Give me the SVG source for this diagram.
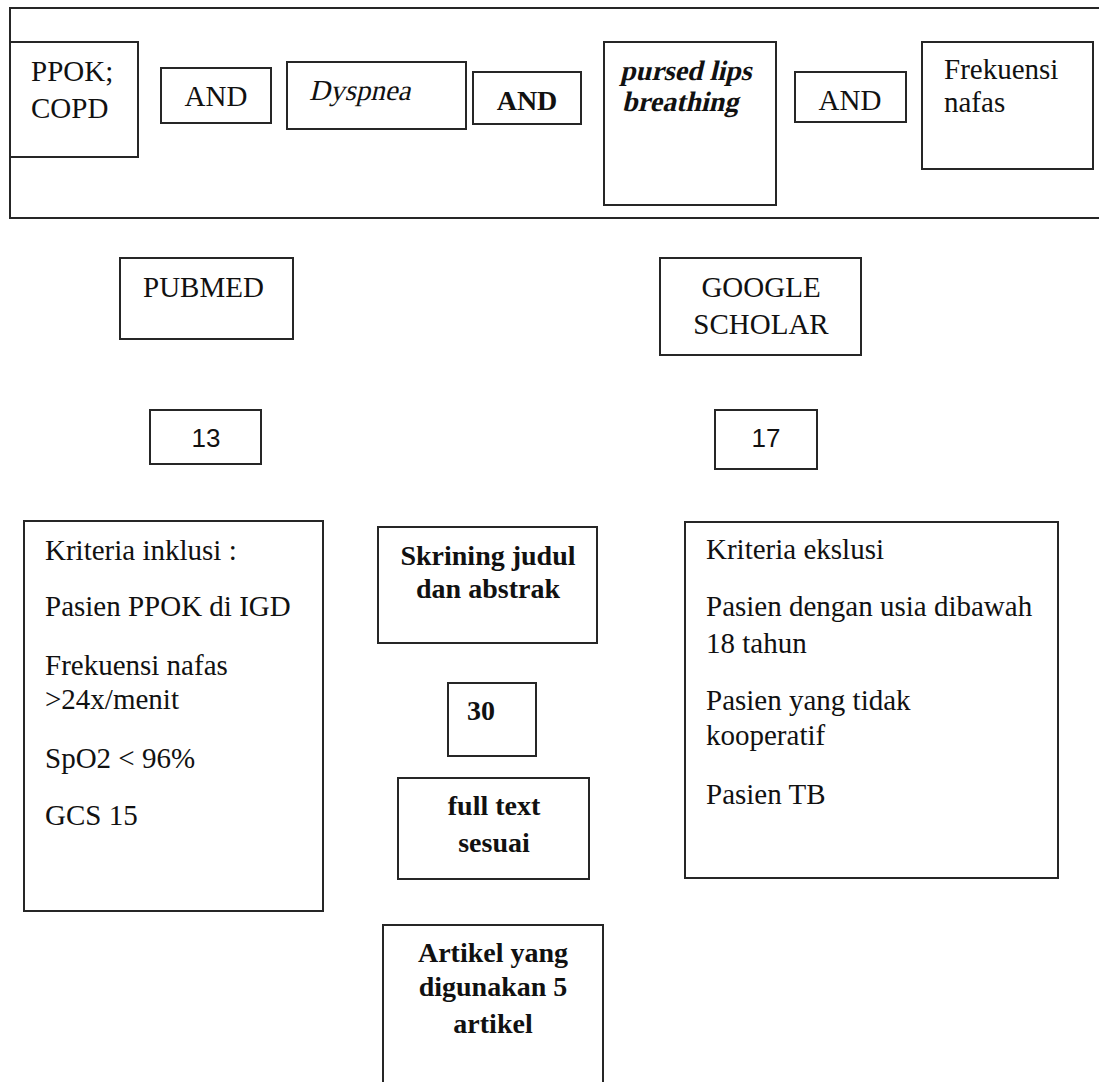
<svg xmlns="http://www.w3.org/2000/svg" width="1099" height="1082" viewBox="0 0 1099 1082">
<style>
.b{fill:#fff;stroke:#262626;stroke-width:2}
.t{font-family:"Liberation Serif","Times New Roman",serif;font-size:29px;fill:#111}
.w{font-weight:bold;font-size:28px}
.s{font-family:"Liberation Sans",Arial,sans-serif;font-size:26px;fill:#111}
.c{text-anchor:middle}
</style>
<rect width="1099" height="1082" fill="#fff"/>
<g id="frame"><path d="M1100,8 H10 V218 H1100" fill="none" stroke="#262626" stroke-width="2"/></g>
<g id="ppok"><rect class="b" x="10" y="42" width="128" height="115"/><text class="t" x="31" y="81">PPOK;</text><text class="t" x="31" y="118">COPD</text></g>
<g id="and1"><rect class="b" x="161" y="68" width="110" height="55"/><text class="t c" x="216" y="106">AND</text></g>
<g id="dyspnea"><rect class="b" x="287" y="62" width="179" height="67"/><text class="t" transform="translate(309,100) skewX(-13)">Dyspnea</text></g>
<g id="and2"><rect class="b" x="473" y="72" width="108" height="52"/><text class="t w c" x="527" y="110">AND</text></g>
<g id="pursed"><rect class="b" x="604" y="42" width="172" height="163"/><text class="t w" transform="translate(620,80) skewX(-13)">pursed lips</text><text class="t w" transform="translate(622,111) skewX(-13)">breathing</text></g>
<g id="and3"><rect class="b" x="795" y="72" width="111" height="50"/><text class="t c" x="850" y="110">AND</text></g>
<g id="frek"><rect class="b" x="922" y="42" width="171" height="127"/><text class="t" x="944" y="79">Frekuensi</text><text class="t" x="944" y="112">nafas</text></g>
<g id="pubmed"><rect class="b" x="120" y="258" width="173" height="81"/><text class="t" x="143" y="297">PUBMED</text></g>
<g id="google"><rect class="b" x="660" y="258" width="201" height="97"/><text class="t c" x="761" y="297">GOOGLE</text><text class="t c" x="761" y="334">SCHOLAR</text></g>
<g id="n13"><rect class="b" x="150" y="410" width="111" height="54"/><text class="s c" x="206" y="447">13</text></g>
<g id="n17"><rect class="b" x="715" y="410" width="102" height="59"/><text class="s c" x="766" y="447">17</text></g>
<g id="inklusi"><rect class="b" x="24" y="521" width="299" height="390"/>
<text class="t" x="45" y="560">Kriteria inklusi :</text>
<text class="t" x="45" y="616">Pasien PPOK di IGD</text>
<text class="t" x="45" y="675">Frekuensi nafas</text>
<text class="t" x="45" y="709">&gt;24x/menit</text>
<text class="t" x="45" y="768">SpO2 &lt; 96%</text>
<text class="t" x="45" y="825">GCS 15</text></g>
<g id="skrining"><rect class="b" x="378" y="527" width="219" height="116"/><text class="t w c" x="488" y="565">Skrining judul</text><text class="t w c" x="488" y="598">dan abstrak</text></g>
<g id="n30"><rect class="b" x="448" y="683" width="88" height="73"/><text class="t w" x="467" y="720">30</text></g>
<g id="fulltext"><rect class="b" x="398" y="778" width="191" height="101"/><text class="t w c" x="494" y="815">full text</text><text class="t w c" x="494" y="852">sesuai</text></g>
<g id="ekslusi"><rect class="b" x="685" y="522" width="373" height="356"/>
<text class="t" x="706" y="559">Kriteria  ekslusi</text>
<text class="t" x="706" y="616">Pasien dengan usia dibawah</text>
<text class="t" x="706" y="653">18 tahun</text>
<text class="t" x="706" y="710">Pasien yang tidak</text>
<text class="t" x="706" y="745">kooperatif</text>
<text class="t" x="706" y="804">Pasien TB</text></g>
<g id="artikel"><rect class="b" x="383" y="925" width="220" height="170"/><text class="t w c" x="493" y="962">Artikel yang</text><text class="t w c" x="493" y="996">digunakan 5</text><text class="t w c" x="493" y="1033">artikel</text></g>
<g id="connectors"></g>
</svg>
